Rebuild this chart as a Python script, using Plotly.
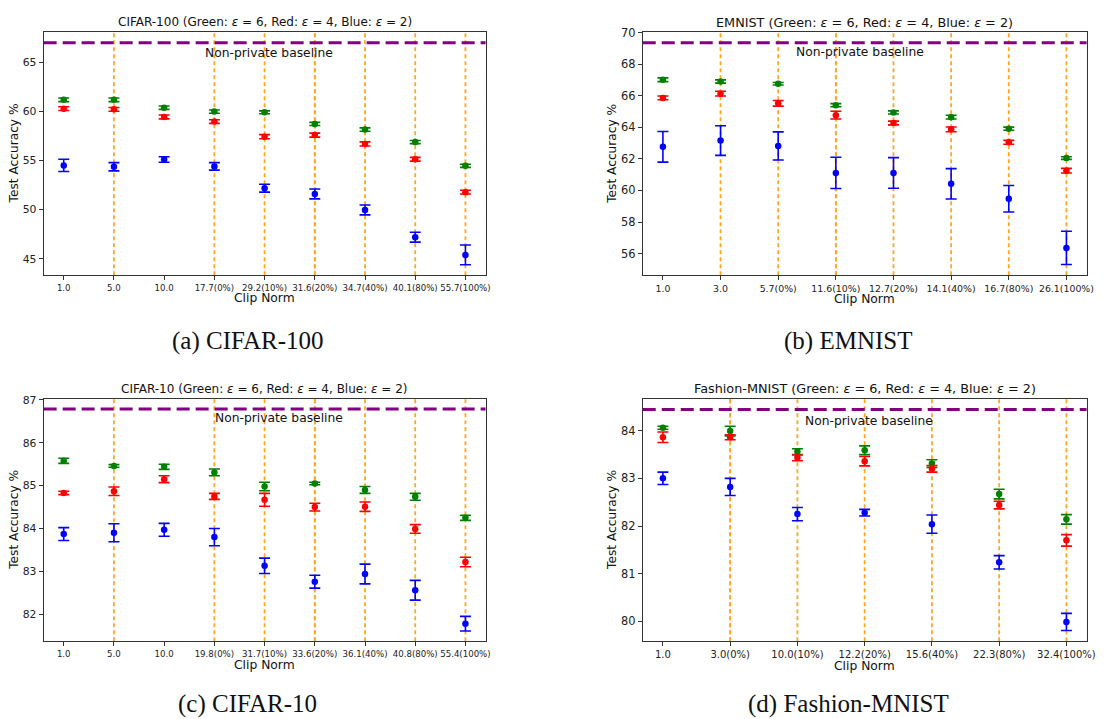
import plotly.graph_objects as go

W, H = 1107, 719

# ---------------- data ----------------
cifar100_labels = ["1.0", "5.0", "10.0", "17.7(0%)", "29.2(10%)", "31.6(20%)", "34.7(40%)", "40.1(80%)", "55.7(100%)"]
cifar100_green = [61.17, 61.17, 60.37, 59.97, 59.90, 58.72, 58.15, 56.88, 54.46]
cifar100_green_err = [0.18, 0.18, 0.17, 0.16, 0.15, 0.16, 0.17, 0.16, 0.16]
cifar100_red = [60.27, 60.20, 59.43, 58.96, 57.42, 57.58, 56.68, 55.13, 51.78]
cifar100_red_err = [0.19, 0.19, 0.20, 0.19, 0.21, 0.20, 0.21, 0.19, 0.19]
cifar100_blue = [54.50, 54.36, 55.10, 54.40, 52.18, 51.60, 49.97, 47.20, 45.40]
cifar100_blue_err = [0.62, 0.42, 0.28, 0.38, 0.40, 0.50, 0.50, 0.50, 1.00]
cifar100_baseline = 66.98

emnist_labels = ["1.0", "3.0", "5.7(0%)", "11.6(10%)", "12.7(20%)", "14.1(40%)", "16.7(80%)", "26.1(100%)"]
emnist_green = [67.01, 66.90, 66.76, 65.40, 64.94, 64.64, 63.91, 62.05]
emnist_green_err = [0.12, 0.10, 0.08, 0.10, 0.10, 0.12, 0.10, 0.08]
emnist_red = [65.86, 66.13, 65.52, 64.77, 64.27, 63.87, 63.05, 61.25]
emnist_red_err = [0.12, 0.15, 0.18, 0.25, 0.12, 0.15, 0.12, 0.15]
emnist_blue = [62.76, 63.16, 62.82, 61.11, 61.11, 60.42, 59.47, 56.36]
emnist_blue_err = [0.97, 0.94, 0.89, 0.99, 0.97, 0.96, 0.84, 1.05]
emnist_baseline = 69.35

cifar10_labels = ["1.0", "5.0", "10.0", "19.8(0%)", "31.7(10%)", "33.6(20%)", "36.1(40%)", "40.8(80%)", "55.4(100%)"]
cifar10_green = [85.58, 85.46, 85.44, 85.31, 84.98, 85.05, 84.90, 84.74, 84.25]
cifar10_green_err = [0.06, 0.03, 0.06, 0.08, 0.10, 0.03, 0.08, 0.08, 0.06]
cifar10_red = [84.83, 84.87, 85.15, 84.75, 84.67, 84.50, 84.51, 83.99, 83.22]
cifar10_red_err = [0.04, 0.10, 0.08, 0.07, 0.15, 0.09, 0.11, 0.10, 0.11]
cifar10_blue = [83.87, 83.90, 83.97, 83.80, 83.13, 82.76, 82.94, 82.56, 81.78]
cifar10_blue_err = [0.15, 0.21, 0.15, 0.20, 0.18, 0.15, 0.23, 0.23, 0.17]
cifar10_baseline = 86.79

fmnist_labels = ["1.0", "3.0(0%)", "10.0(10%)", "12.2(20%)", "15.6(40%)", "22.3(80%)", "32.4(100%)"]
fmnist_green = [84.06, 83.99, 83.56, 83.59, 83.31, 82.67, 82.14]
fmnist_green_err = [0.03, 0.10, 0.06, 0.09, 0.08, 0.10, 0.10]
fmnist_red = [83.86, 83.86, 83.43, 83.36, 83.20, 82.44, 81.70]
fmnist_red_err = [0.11, 0.05, 0.06, 0.10, 0.07, 0.08, 0.12]
fmnist_blue = [83.00, 82.82, 82.25, 82.28, 82.04, 81.24, 79.99]
fmnist_blue_err = [0.13, 0.18, 0.14, 0.07, 0.19, 0.14, 0.18]
fmnist_baseline = 84.44

# ---------------- layout helpers ----------------
def fx(x):
    return x / W

def fy(y):
    return 1 - y / H

EPS = "<i>ε</i>"
SUFFIX = f" (Green: {EPS} = 6, Red: {EPS} = 4, Blue: {EPS} = 2)"

panels = [
    dict(name="CIFAR-100", caption="(a) CIFAR-100", labels=cifar100_labels,
         series=[(cifar100_green, cifar100_green_err, "green"),
                 (cifar100_red, cifar100_red_err, "red"),
                 (cifar100_blue, cifar100_blue_err, "blue")],
         baseline=cifar100_baseline,
         box=(44, 489.5, 25, 271), yrange=[43.32, 68.09], dtick=5, tick0=45,
         xfont=8.6, yfont=10.8, tfont=12.0, base_txt=(271, 46.7),
         ylab_x=14, xlab_dy=23.3, cap=(250, 337)),
    dict(name="EMNIST", caption="(b) EMNIST", labels=emnist_labels,
         series=[(emnist_green, emnist_green_err, "green"),
                 (emnist_red, emnist_red_err, "red"),
                 (emnist_blue, emnist_blue_err, "blue")],
         baseline=emnist_baseline,
         box=(648, 1095.5, 25.5, 271), yrange=[54.62, 70.02], dtick=2, tick0=56,
         xfont=9.4, yfont=11.4, tfont=12.8, base_txt=(867, 45),
         ylab_x=617, xlab_dy=24, cap=(855, 337)),
    dict(name="CIFAR-10", caption="(c) CIFAR-10", labels=cifar10_labels,
         series=[(cifar10_green, cifar10_green_err, "green"),
                 (cifar10_red, cifar10_red_err, "red"),
                 (cifar10_blue, cifar10_blue_err, "blue")],
         baseline=cifar10_baseline,
         box=(44, 489.5, 395.5, 640.5), yrange=[81.37, 87.03], dtick=1, tick0=82,
         xfont=8.6, yfont=10.8, tfont=12.0, base_txt=(281, 415),
         ylab_x=14, xlab_dy=24, cap=(250, 704)),
    dict(name="Fashion-MNIST", caption="(d) Fashion-MNIST", labels=fmnist_labels,
         series=[(fmnist_green, fmnist_green_err, "green"),
                 (fmnist_red, fmnist_red_err, "red"),
                 (fmnist_blue, fmnist_blue_err, "blue")],
         baseline=fmnist_baseline,
         box=(648, 1095.5, 395.5, 640.5), yrange=[79.585, 84.67], dtick=1, tick0=80,
         xfont=10.0, yfont=11.4, tfont=12.8, base_txt=(876, 418),
         ylab_x=617, xlab_dy=25.4, cap=(855, 704)),
]

FONT = "DejaVu Sans"
fig = go.Figure()
annotations = []
shapes = []
layout_axes = {}

for i, p in enumerate(panels):
    k = "" if i == 0 else str(i + 1)
    xa, ya = "x" + k, "y" + k
    x0, x1, y0, y1 = p["box"]
    n = len(p["labels"])
    m = 0.05 * (n - 1)

    # orange dashed vertical guide lines at every clip-norm category
    for lab in p["labels"]:
        shapes.append(dict(type="line", xref=xa, yref=ya + " domain",
                           x0=lab, x1=lab, y0=0, y1=1, layer="below",
                           line=dict(color="#FFA81E", width=1.8, dash="4px,3px")))

    for vals, errs, col in p["series"]:
        fig.add_trace(go.Scatter(
            x=p["labels"], y=vals, mode="markers", xaxis=xa, yaxis=ya,
            marker=dict(color=col, size=6.5),
            error_y=dict(type="data", array=errs, visible=True, color=col,
                         thickness=1.6, width=5.5),
            showlegend=False, hoverinfo="x+y"))

    layout_axes["xaxis" + k] = dict(
        type="category", categoryorder="array", categoryarray=p["labels"],
        domain=[fx(x0), fx(x1)], anchor=ya, range=[-m, n - 1 + m],
        showline=True, mirror=True, linecolor="#333", linewidth=1,
        ticks="outside", ticklen=4, tickcolor="#333", tickwidth=1,
        tickfont=dict(family=FONT, size=p["xfont"], color="#222"),
        showgrid=False, zeroline=False, fixedrange=True)
    layout_axes["yaxis" + k] = dict(
        domain=[fy(y1), fy(y0)], anchor=xa, range=p["yrange"],
        tick0=p["tick0"], dtick=p["dtick"],
        showline=True, mirror=True, linecolor="#333", linewidth=1,
        ticks="outside", ticklen=4, tickcolor="#333", tickwidth=1,
        tickfont=dict(family=FONT, size=p["yfont"], color="#222"),
        showgrid=False, zeroline=False, fixedrange=True)

    shapes.append(dict(type="line", xref=xa + " domain", yref=ya,
                       x0=0, x1=1, y0=p["baseline"], y1=p["baseline"],
                       line=dict(color="purple", width=3, dash="13px,6px"),
                       layer="above"))

    cx = (x0 + x1) / 2
    annotations.append(dict(text=p["name"] + SUFFIX, xref="paper", yref="paper",
                            x=fx(cx), y=fy(y0 - 10), xanchor="center", yanchor="middle",
                            showarrow=False, font=dict(family=FONT, size=p["tfont"], color="#111")))
    annotations.append(dict(text="Non-private baseline", xref="paper", yref="paper",
                            x=fx(p["base_txt"][0]), y=fy(p["base_txt"][1]),
                            xanchor="center", yanchor="middle", showarrow=False,
                            font=dict(family=FONT, size=12.3, color="#111")))
    annotations.append(dict(text="Clip Norm", xref="paper", yref="paper",
                            x=fx(cx), y=fy(y1 + p["xlab_dy"]), xanchor="center", yanchor="middle",
                            showarrow=False, font=dict(family=FONT, size=12.3, color="#111")))
    annotations.append(dict(text="Test Accuracy %", xref="paper", yref="paper",
                            x=fx(p["ylab_x"]), y=fy((y0 + y1) / 2), textangle=-90,
                            xanchor="center", yanchor="middle", showarrow=False,
                            font=dict(family=FONT, size=12.2, color="#111")))
    annotations.append(dict(text=p["caption"], xref="paper", yref="paper",
                            x=fx(p["cap"][0]), y=fy(p["cap"][1]), xanchor="center",
                            yanchor="middle", showarrow=False,
                            font=dict(family="Liberation Serif", size=25, color="#111")))

fig.update_layout(
    width=W, height=H, autosize=False,
    margin=dict(l=0, r=0, t=0, b=0),
    paper_bgcolor="white", plot_bgcolor="white",
    annotations=annotations, shapes=shapes, showlegend=False,
    **layout_axes)

fig.write_html("out.html", config={"displayModeBar": False},
               post_script="document.body.style.margin='0';document.body.style.padding='0';document.body.style.overflow='hidden';")
